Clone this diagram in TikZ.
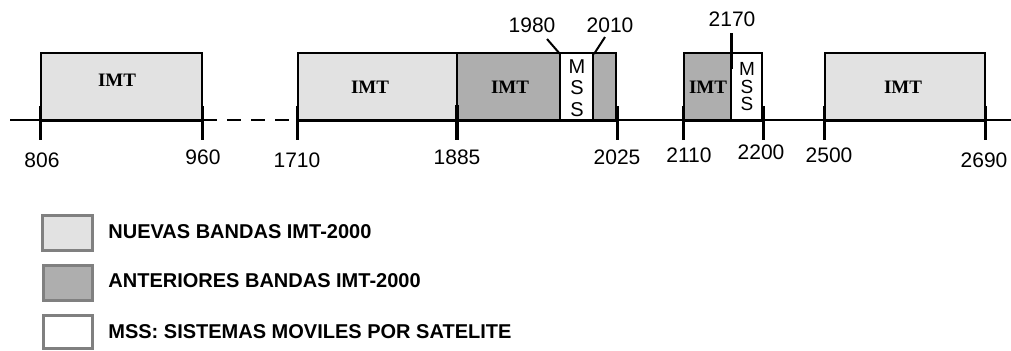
\documentclass[tikz,border=0pt]{standalone}
\usepackage{fontspec}
\setmainfont{Liberation Serif}
\setsansfont{Liberation Sans}
\definecolor{nuevaGray}{RGB}{226,226,226}
\definecolor{anteriorGray}{RGB}{174,174,174}
\definecolor{legendEdge}{RGB}{128,128,128}

\begin{document}
\begin{tikzpicture}[x=0.5pt,y=-0.5pt,
    band/.style={draw=black, line width=0.7pt},
    imt/.style={font=\rmfamily\bfseries\fontsize{9.5}{10}\selectfont},
    freq/.style={font=\sffamily\fontsize{10.5}{12}\selectfont},
    mss/.style={font=\sffamily\fontsize{10}{10.75}\selectfont, align=center, inner sep=0pt},
    tickmark/.style={line width=1.5pt},
    legendbox/.style={draw=legendEdge, line width=1.5pt},
    legendtext/.style={font=\sffamily\bfseries\fontsize{10}{12}\selectfont, anchor=west, inner sep=0pt}]
    \useasboundingbox (0,0) rectangle (1011,350);

    % Axis
    \draw[line width=0.75pt] (10,120) -- (203,120);
    \draw[line width=0.75pt, dash pattern=on 7pt off 5pt] (203,120) -- (297,120);
    \draw[line width=0.75pt] (297,120) -- (1011,120);

    % Bands
    \filldraw[band, fill=nuevaGray] (41,53) rectangle (202,120);
    \filldraw[band, fill=nuevaGray] (298,53) rectangle (457,120);
    \filldraw[band, fill=anteriorGray] (457,53) rectangle (560,120);
    \filldraw[band, fill=white] (560,53) rectangle (593,120);
    \filldraw[band, fill=anteriorGray] (593,53) rectangle (616,120);
    \filldraw[band, fill=anteriorGray] (684,53) rectangle (731,120);
    \filldraw[band, fill=white] (731,53) rectangle (762,120);
    \filldraw[band, fill=nuevaGray] (825,53) rectangle (985,120);

    \node[imt] (imtA) at (117,80) {IMT};
    \node[imt] (imtB) at (370,87) {IMT};
    \node[imt] (imtC) at (510,87) {IMT};
    \node[imt, inner sep=0pt] (imtD) at (708,87) {IMT};
    \node[imt] (imtE) at (903,87) {IMT};

    \node[mss] (mssA) at (577,88) {M\\S\\S};
    \node[mss, font=\sffamily\fontsize{9.5}{8.75}\selectfont] (mssB) at (747,87) {M\\S\\S};

    % Thick segments and ticks
    \foreach \a/\b in {40/202, 297/617, 683/763, 824/985}
        \draw[line width=1.5pt] (\a,120) -- (\b,120);
    \foreach \x/\lx/\ly/\f in {40/42/160/806, 202/203/157/960, 297/297/160/1710,
            617/617/157/2025, 683/689/155/2110, 763/761/152/2200,
            824/829/155/2500, 985/984/160/2690} {
        \draw[tickmark] (\x,106) -- (\x,140);
        \node[freq] (f\f) at (\lx,\ly) {\f};
    }
    \draw[line width=2.2pt] (457,105) -- (457,140);
    \node[freq] (f1885) at (457,157) {1885};

    % Upper marks
    \node[freq] (f1980) at (532,25) {1980};
    \node[freq] (f2010) at (610,25) {2010};
    \node[freq] (f2170) at (732,19) {2170};
    \draw[line width=1pt] (547,39) -- (560,54);
    \draw[line width=1pt] (605,37) -- (594,54);
    \draw[line width=1.5pt] (731,33) -- (731,69);

    % Legend
    \filldraw[legendbox, fill=nuevaGray] (42,215) rectangle (92,250);
    \filldraw[legendbox, fill=anteriorGray] (43,265) rectangle (92,300);
    \filldraw[legendbox, fill=white] (43,315) rectangle (92,348);
    \node[legendtext] (lgA) at (108,232) {NUEVAS BANDAS IMT-2000};
    \node[legendtext] (lgB) at (108,281) {ANTERIORES BANDAS IMT-2000};
    \node[legendtext] (lgC) at (108,332) {MSS: SISTEMAS MOVILES POR SATELITE};
\end{tikzpicture}
\end{document}
